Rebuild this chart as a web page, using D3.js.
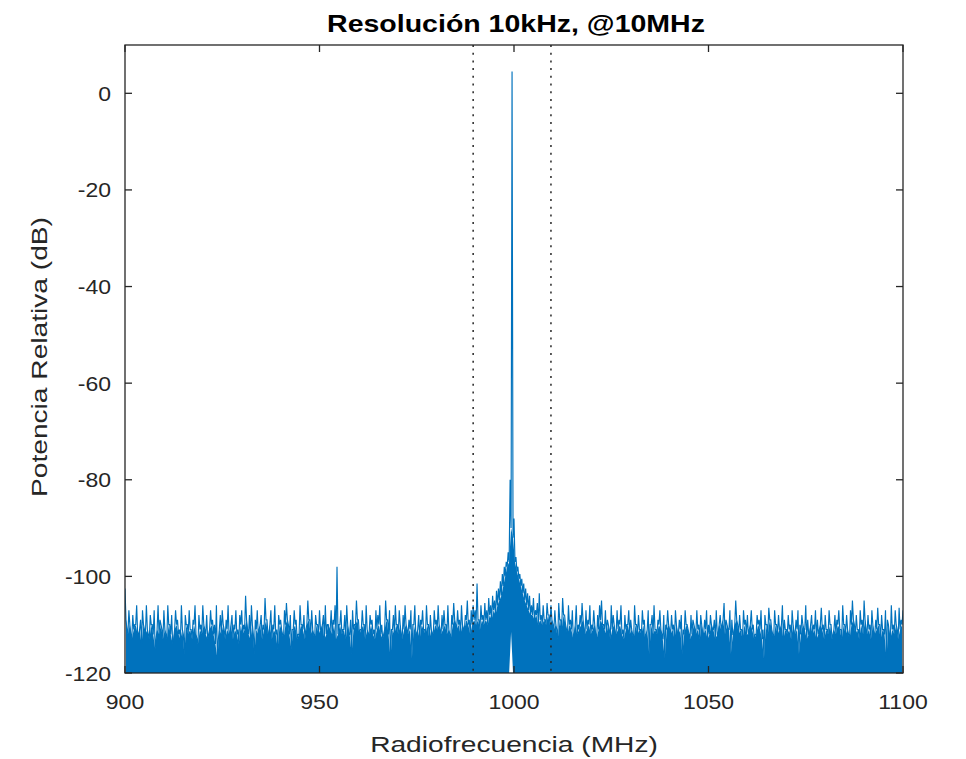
<!DOCTYPE html>
<html>
<head>
<meta charset="utf-8">
<script src="https://cdn.jsdelivr.net/npm/d3@7"></script>
<style>
  html, body { margin: 0; padding: 0; background: #fff; }
  text { font-family: "Liberation Sans", Arial, Helvetica, sans-serif; }
</style>
</head>
<body>
<svg id="chart" width="966" height="759"></svg>
<script>
// ---------------- DATA ----------------
const titleText = "Resolución 10kHz, @10MHz";
const xLabelText = "Radiofrecuencia (MHz)";
const yLabelText = "Potencia Relativa (dB)";

const xTicks = [900, 950, 1000, 1050, 1100];
const yTicks = [-120, -100, -80, -60, -40, -20, 0];
const markerFreqs = [989.5, 1009.5];   // dotted limits (carrier ±10 MHz)

const freqStart = 900, freqStep = 0.5; // peak samples at 900, 900.5, ... 1100

// local maxima of the trace (dB), one per 0.5 MHz
const peaks = [
 -102.5,-111,-107,-112,-108,-110,-106,-113,-109,-107,-111,-106,-112,-108,-110,-107,-113,-106,-109,-111,
 -107,-112,-106,-110,-108,-113,-107,-109,-111,-106,-112,-108,-110,-107,-111,-109,-106,-113,-108,-110,
 -106,-111,-108,-112,-107,-109,-110,-106,-113,-108,-107,-111,-109,-106,-112,-108,-110,-107,-111,-108,
 -107,-110,-104,-111,-108,-106,-112,-109,-107,-111,-108,-110,-104.5,-109,-112,-107,-110,-106,-111,-108,
 -109,-112,-107,-105.5,-110,-108,-111,-107,-109,-112,-106,-110,-108,-111,-105,-109,-107,-112,-108,-110,
 -107,-111,-108,-106,-110,-112,-107,-109,-106,-98,-110,-107,-111,-108,-106,-112,-109,-107,-110,-105,
 -109,-111,-107,-110,-106,-112,-108,-109,-111,-107,-108,-106,-110,-112,-105,-109,-107,-111,-108,-106,
 -110,-107,-112,-108,-106,-111,-109,-107,-110,-106,-112,-108,-109,-107,-111,-106,-110,-108,-112,-107,
 -109,-106,-111,-108,-107,-110,-106,-112,-108,-105.5,-110,-107,-109,-106,-111,-108,-105,-109,-107,-106,
 -107,-101.5,-109,-106,-108,-105.5,-107,-104.5,-106,-104,-105,-103,-102.5,-101,-99.5,-98,-97,-95,-80,4.5,
 -88,-96,-98,-99.5,-100.5,-101.5,-102.5,-103.5,-104,-106,-104.5,-107,-105.5,-103.5,-108,-106,-109,-105.5,-108,-106,
 -110,-107,-111,-105.5,-109,-104.5,-108,-111,-106,-109,-107,-112,-106,-110,-108,-105.5,-111,-107,-109,-106,
 -110,-107,-112,-108,-106,-105,-110,-107,-109,-111,-106,-108,-112,-107,-109,-106,-111,-108,-110,-107,
 -109,-112,-106,-110,-108,-111,-107,-109,-112,-107,-110,-108,-106,-111,-109,-107,-112,-108,-110,-107,
 -111,-108,-110,-107,-112,-109,-108,-111,-107,-110,-112,-108,-109,-111,-107,-110,-108,-112,-109,-107,
 -110,-108,-111,-109,-107,-112,-108,-110,-105.5,-109,-111,-107,-109,-112,-105,-110,-108,-111,-107,-109,
 -108,-111,-107,-110,-112,-108,-109,-107,-111,-108,-110,-106.5,-109,-112,-107,-110,-108,-111,-106,-109,
 -111,-108,-110,-107,-112,-109,-107,-110,-108,-111,-106,-109,-112,-108,-110,-107,-109,-111,-106.5,-110,
 -108,-111,-107,-110,-112,-108,-109,-107,-111,-106,-110,-108,-112,-107,-105,-110,-108,-111,-107,-109,
 -105,-111,-108,-110,-107,-112,-109,-106.5,-110,-108,-111,-107,-109,-112,-106,-110,-107,-111,-106.5,-109,
 -107
];

// level up to which the dense trace fills solid (dB), halfway between peaks (900.25 ... 1099.75)
const floorTop = [
 -109,-112,-110,-113,-111,-110,-112,-111,-114,-110,-112,-111,-113,-110,-112,-115,-111,-112,-110,-113,
 -111,-113,-110,-112,-114,-111,-110,-112,-113,-111,-116,-110,-112,-111,-113,-110,-112,-114,-111,-112,
 -110,-112,-113,-111,-110,-112,-114,-117,-111,-112,-110,-113,-111,-112,-110,-113,-111,-112,-114,-110,
 -112,-111,-109,-112,-113,-110,-116,-111,-112,-110,-113,-111,-109,-112,-110,-113,-111,-112,-115,-110,
 -111,-113,-110,-109,-112,-115,-111,-110,-113,-112,-110,-111,-113,-110,-109,-112,-111,-113,-110,-112,
 -111,-110,-113,-112,-110,-111,-112,-110,-113,-112,-110,-112,-111,-113,-110,-112,-116,-111,-110,-109,
 -112,-111,-110,-113,-111,-112,-110,-112,-113,-111,-110,-112,-113,-111,-109,-112,-117,-111,-112,-110,
 -112,-110,-113,-111,-110,-112,-111,-117,-110,-112,-111,-113,-110,-111,-112,-110,-113,-111,-112,-110,
 -111,-110,-112,-111,-110,-112,-111,-113,-110,-109,-111,-110,-112,-110,-111,-109,-110,-112,-110,-109,
 -110,-109,-111,-109,-110,-109,-110,-108,-109,-107,-108,-106,-105,-104,-102,-100,-98,-97,-90,-92,
 -97,-99,-100.5,-102,-103.5,-105,-106,-107,-108,-108,-109,-108,-110,-109,-110,-109,-110,-108,-110,-109,
 -111,-110,-113,-109,-111,-108,-110,-112,-110,-111,-113,-110,-112,-111,-110,-109,-112,-111,-110,-112,
 -111,-110,-113,-111,-109,-110,-111,-112,-110,-113,-111,-110,-112,-111,-110,-112,-113,-111,-110,-112,
 -111,-113,-110,-112,-111,-112,-110,-113,-111,-116,-110,-112,-111,-112,-110,-111,-113,-117,-111,-110,
 -112,-111,-113,-110,-112,-111,-116,-112,-110,-111,-113,-112,-110,-112,-111,-113,-110,-112,-111,-113,
 -112,-110,-111,-113,-112,-110,-111,-109,-112,-110,-111,-116,-112,-110,-109,-112,-111,-113,-110,-112,
 -112,-110,-111,-113,-112,-110,-111,-113,-117,-110,-112,-109,-111,-113,-110,-112,-111,-110,-113,-111,
 -112,-111,-113,-110,-112,-111,-116,-112,-110,-111,-113,-112,-110,-112,-111,-113,-112,-110,-111,-113,
 -111,-112,-110,-113,-111,-112,-110,-111,-113,-110,-112,-111,-113,-110,-109,-112,-111,-113,-110,-112,
 -109,-112,-111,-113,-110,-112,-111,-110,-113,-111,-112,-117,-110,-113,-111,-112,-110,-113,-111,-110
];

// lowest level reached by the trace (dB): far below the axis everywhere except next to the carrier
const floorBottomDefault = -150;
const floorBottomNearCarrier = [[998.75, -120], [999.25, -111.5], [999.75, -120]];

// ---------------- LAYOUT ----------------
const svg = d3.select("#chart");
const L = 125, R = 903, T = 45, B = 673;
const axisColor = "#262626";
const lineColor = "#0072BD";

const x = d3.scaleLinear().domain([900, 1100]).range([L, R]);
const y = d3.scaleLinear().domain([-120, 10]).range([B, T]);

// interleaved trace: peak, floor, peak, floor ...
const trace = [];
peaks.forEach((v, i) => {
  const f = freqStart + i * freqStep;
  trace.push([f, v]);
  if (i < floorTop.length) trace.push([f + freqStep / 2, floorTop[i]]);
});
const bottomMap = new Map(floorBottomNearCarrier.map(d => [d[0], d[1]]));
const floorPts = floorTop.map((v, i) => {
  const f = freqStart + freqStep / 2 + i * freqStep;
  return { f, top: v, bottom: bottomMap.has(f) ? bottomMap.get(f) : floorBottomDefault };
});

svg.append("rect").attr("x", 0).attr("y", 0).attr("width", 966).attr("height", 759).attr("fill", "#fff");

svg.append("defs").append("clipPath").attr("id", "clip")
  .append("rect").attr("x", L).attr("y", T).attr("width", R - L).attr("height", B - T);

const plot = svg.append("g").attr("clip-path", "url(#clip)");

// dense, solid part of the spectrum
const area = d3.area().x(d => x(d.f)).y0(d => y(d.bottom)).y1(d => y(d.top));
plot.append("path").datum(floorPts)
  .attr("fill", lineColor).attr("stroke", "none").attr("d", area);

// trace spikes
const line = d3.line().x(d => x(d[0])).y(d => y(d[1]));
plot.append("path")
  .datum(trace)
  .attr("fill", "none")
  .attr("stroke", lineColor)
  .attr("stroke-width", 1.15)
  .attr("d", line);

// dotted markers
svg.selectAll("line.marker").data(markerFreqs).join("line")
  .attr("class", "marker")
  .attr("x1", d => x(d)).attr("x2", d => x(d))
  .attr("y1", T).attr("y2", B)
  .attr("stroke", axisColor)
  .attr("stroke-width", 1.5)
  .attr("stroke-dasharray", "2 5.7");

// axes box
const g = svg.append("g");
g.append("rect").attr("x", L).attr("y", T).attr("width", R - L).attr("height", B - T)
  .attr("fill", "none").attr("stroke", axisColor).attr("stroke-width", 1.3);

const tk = 7;
g.selectAll("line.xb").data(xTicks).join("line").attr("class", "xb")
  .attr("x1", d => x(d)).attr("x2", d => x(d)).attr("y1", B).attr("y2", B - tk)
  .attr("stroke", axisColor).attr("stroke-width", 1.3);
g.selectAll("line.xt").data(xTicks).join("line").attr("class", "xt")
  .attr("x1", d => x(d)).attr("x2", d => x(d)).attr("y1", T).attr("y2", T + tk)
  .attr("stroke", axisColor).attr("stroke-width", 1.3);
g.selectAll("line.yl").data(yTicks).join("line").attr("class", "yl")
  .attr("x1", L).attr("x2", L + tk).attr("y1", d => y(d)).attr("y2", d => y(d))
  .attr("stroke", axisColor).attr("stroke-width", 1.3);
g.selectAll("line.yr").data(yTicks).join("line").attr("class", "yr")
  .attr("x1", R).attr("x2", R - tk).attr("y1", d => y(d)).attr("y2", d => y(d))
  .attr("stroke", axisColor).attr("stroke-width", 1.3);

const sxTick = 1.15, sxLabel = 1.28, sxTitle = 1.24;
g.selectAll("text.xl").data(xTicks).join("text").attr("class", "xl")
  .attr("transform", d => `translate(${x(d)},${B + 36}) scale(${sxTick},1)`)
  .attr("text-anchor", "middle")
  .attr("font-size", 20).attr("fill", axisColor)
  .text(d => d);
g.selectAll("text.yl").data(yTicks).join("text").attr("class", "yl")
  .attr("transform", d => `translate(${L - 14},${y(d) + 7.5}) scale(${sxTick},1)`)
  .attr("text-anchor", "end")
  .attr("font-size", 20).attr("fill", axisColor)
  .text(d => d);

svg.append("text")
  .attr("transform", `translate(${(L + R) / 2},752) scale(${sxLabel},1)`)
  .attr("text-anchor", "middle").attr("font-size", 22).attr("fill", axisColor)
  .text(xLabelText);
svg.append("text")
  .attr("transform", `translate(47,${(T + B) / 2 - 2}) rotate(-90) scale(${sxLabel},1)`)
  .attr("text-anchor", "middle").attr("font-size", 22).attr("fill", axisColor)
  .text(yLabelText);

svg.append("text")
  .attr("transform", `translate(${(L + R) / 2 + 2},31.5) scale(${sxTitle},1)`)
  .attr("text-anchor", "middle").attr("font-size", 23).attr("font-weight", "bold").attr("fill", "#000")
  .text(titleText);
</script>
</body>
</html>
